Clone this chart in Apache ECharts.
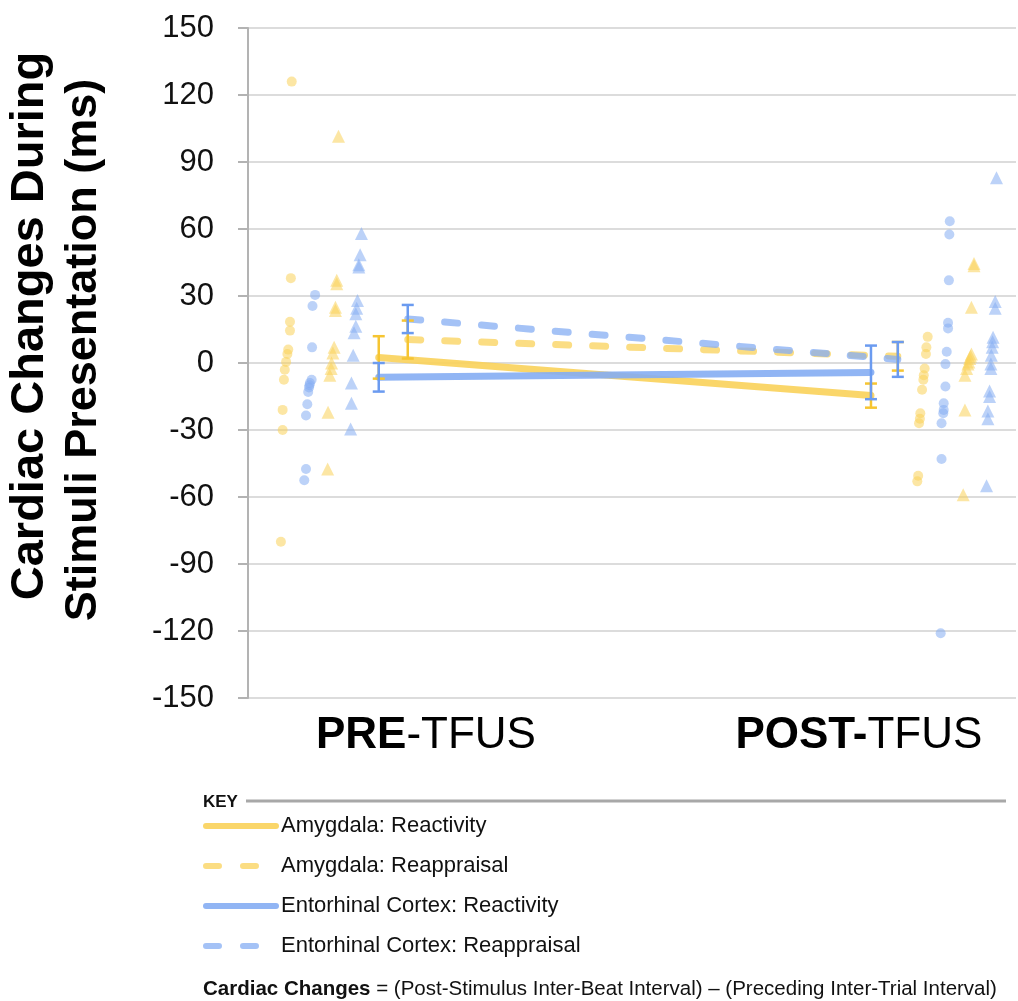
<!DOCTYPE html>
<html>
<head>
    <meta charset="UTF-8">
    <title>Cardiac changes PRE / POST TFUS</title>
    <script src="https://cdn.jsdelivr.net/npm/echarts@6/dist/echarts.min.js"></script>
    <style>
        html, body { margin: 0; padding: 0; background: #fff; }
    </style>
</head>
<body>

<div id="main" style="width: 1018px;height:1001px"></div>

<script type="text/javascript">
    // x: 1 = PRE-TFUS, 2 = POST-TFUS (points are jittered left / right of the label)
    var seriesNames = ['Amygdala: Reactivity', 'Amygdala: Reappraisal', 'Entorhinal Cortex: Reactivity', 'Entorhinal Cortex: Reappraisal'];
    var tickLabels = ['PRE-TFUS', 'POST-TFUS'];

    // group means with error bars (pre, post)
    var meanX = { reactivity: [0.891, 2.028], reappraisal: [0.958, 2.090] };
    var amyReactMean = [2.5, -14.6];
    var amyReactErr = [9.5, 5.4];
    var amyReappMean = [10.5, 3.0];
    var amyReappErr = [8.5, 6.4];
    var ecReactMean = [-6.4, -4.2];
    var ecReactErr = [6.4, 12.0];
    var ecReappMean = [19.7, 1.6];
    var ecReappErr = [6.3, 7.8];

    // individual subjects [x, ms]
    var amyReactPts = [
        [0.690, 126], [0.688, 38], [0.686, 18.5], [0.686, 14.5], [0.682, 6], [0.680, 4],
        [0.677, 0.5], [0.674, -3], [0.672, -7.5], [0.669, -21], [0.669, -30], [0.665, -80],
        [2.159, 11.7], [2.156, 7], [2.155, 4], [2.152, -2.5], [2.150, -5.5], [2.149, -7.5],
        [2.146, -12], [2.142, -22.5], [2.141, -25], [2.139, -27], [2.137, -50.5], [2.135, -53]
    ];
    var ecReactPts = [
        [0.744, 30.5], [0.738, 25.5], [0.737, 7], [0.736, -7.5], [0.732, -9], [0.731, -10],
        [0.730, -11], [0.728, -13], [0.726, -18.5], [0.723, -23.5], [0.723, -47.5], [0.719, -52.5],
        [2.210, 63.5], [2.209, 57.5], [2.208, 37], [2.206, 18], [2.206, 15.5], [2.203, 5],
        [2.200, -0.5], [2.200, -10.5], [2.196, -18], [2.196, -21], [2.195, -22.5], [2.191, -27],
        [2.191, -43], [2.189, -121]
    ];
    var amyReappPts = [
        [0.798, 101.5], [0.794, 37], [0.794, 35.5], [0.791, 25], [0.791, 23.5], [0.788, 7],
        [0.785, 4.5], [0.782, 0], [0.781, -2.5], [0.778, -5.5], [0.774, -22], [0.773, -47.5],
        [2.266, 44.5], [2.266, 43.5], [2.260, 25], [2.260, 4], [2.258, 3], [2.256, 2],
        [2.254, 0.5], [2.252, -0.5], [2.249, -2.5], [2.245, -5.5], [2.245, -21], [2.241, -59]
    ];
    var ecReappPts = [
        [0.851, 58], [0.848, 48.5], [0.845, 44], [0.845, 43], [0.842, 28], [0.840, 24.5],
        [0.838, 22], [0.838, 16.5], [0.834, 13.5], [0.832, 3.5], [0.828, -9], [0.828, -18],
        [0.826, -29.5],
        [2.318, 83], [2.315, 27.5], [2.315, 24.5], [2.310, 11.5], [2.309, 9.5], [2.308, 7],
        [2.306, 3.5], [2.305, -0.5], [2.305, -2.5], [2.302, -12.5], [2.302, -15], [2.298, -21.5],
        [2.298, -25], [2.295, -55]
    ];

    var YELLOW = '#f9d25a', BLUE = '#85adf3';
    var FONT = '"Liberation Sans", Arial, Helvetica, sans-serif';

    function linePts(xs, ys) {
        return [[xs[0], ys[0]], [xs[1], ys[1]]];
    }
    function errPts(xs, ys, es) {
        return [[xs[0], ys[0] - es[0], ys[0] + es[0]], [xs[1], ys[1] - es[1], ys[1] + es[1]]];
    }

    function errorBars(data, color) {
        return {
            type: 'custom',
            data: data,
            z: 4,
            silent: true,
            renderItem: function (params, api) {
                var x = api.value(0);
                var lo = api.coord([x, api.value(1)]);
                var hi = api.coord([x, api.value(2)]);
                var w = 6;
                var st = { stroke: color, lineWidth: 2.5 };
                return {
                    type: 'group',
                    children: [
                        { type: 'line', shape: { x1: lo[0], y1: lo[1], x2: hi[0], y2: hi[1] }, style: st },
                        { type: 'line', shape: { x1: hi[0] - w, y1: hi[1], x2: hi[0] + w, y2: hi[1] }, style: st },
                        { type: 'line', shape: { x1: lo[0] - w, y1: lo[1], x2: lo[0] + w, y2: lo[1] }, style: st }
                    ]
                };
            }
        };
    }

    function dots(name, data, symbol, color, size) {
        return {
            name: name,
            type: 'scatter',
            data: data,
            symbol: symbol,
            symbolSize: size,
            itemStyle: { color: color, opacity: 0.55 },
            z: 2,
            silent: true
        };
    }

    function meanLine(name, data, color, dashed, z) {
        return {
            name: name,
            type: 'line',
            data: data,
            symbol: 'none',
            z: z,
            silent: true,
            itemStyle: { color: color },
            lineStyle: {
                color: color,
                width: 7,
                opacity: dashed ? 0.75 : 0.9,
                type: dashed ? [13, 24] : 'solid',
                cap: 'round'
            }
        };
    }

    var myChart = echarts.init(document.getElementById('main'));
    var option = {
        animation: false,
        textStyle: { fontFamily: FONT },
        grid: { left: 248, top: 28, width: 768, height: 670, containLabel: false },
        xAxis: {
            type: 'value',
            min: 0.589,
            max: 2.363,
            axisLine: { show: false },
            axisTick: { show: false },
            splitLine: { show: false },
            axisLabel: {
                customValues: [1, 2],
                margin: 16,
                formatter: function (v) {
                    return v < 1.5 ? '{b|PRE}{n|-TFUS}' : '{b|POST-}{n|TFUS}';
                },
                rich: {
                    b: { fontSize: 44, fontWeight: 'bold', color: '#000', fontFamily: FONT },
                    n: { fontSize: 44, color: '#000', fontFamily: FONT }
                }
            }
        },
        yAxis: {
            type: 'value',
            min: -150,
            max: 150,
            interval: 30,
            axisLine: { show: true, lineStyle: { color: '#b3b3b3', width: 2 } },
            axisTick: { show: true, length: 10, lineStyle: { color: '#b3b3b3', width: 2 } },
            splitLine: { lineStyle: { color: '#dcdcdc', width: 2 } },
            axisLabel: { fontSize: 31, color: '#111', margin: 34, fontFamily: FONT }
        },
        legend: {
            data: seriesNames,
            orient: 'vertical',
            left: 203,
            top: 815,
            padding: 0,
            itemWidth: 70,
            itemHeight: 14,
            itemGap: 18,
            selectedMode: false,
            textStyle: { fontSize: 22, color: '#111', fontFamily: FONT },
            itemStyle: { opacity: 0 },
            lineStyle: { width: 6, cap: 'round' }
        },
        graphic: [
            {
                type: 'text', x: 30, y: 326, rotation: Math.PI / 2,
                style: {
                    text: 'Cardiac Changes During',
                    font: 'bold 47px ' + FONT,
                    fill: '#000', align: 'center', verticalAlign: 'middle'
                }
            },
            {
                type: 'text', x: 84, y: 350, rotation: Math.PI / 2,
                style: {
                    text: 'Stimuli Presentation (ms)',
                    font: 'bold 45px ' + FONT,
                    fill: '#000', align: 'center', verticalAlign: 'middle'
                }
            },
            {
                type: 'text', left: 203, top: 794,
                style: { text: 'KEY', font: 'bold 17px ' + FONT, fill: '#111' }
            },
            {
                type: 'line', shape: { x1: 246, y1: 801, x2: 1006, y2: 801 },
                style: { stroke: '#a8a8a8', lineWidth: 3 }
            },
            {
                type: 'text', left: 203, top: 979,
                style: {
                    text: '{b|Cardiac Changes} = (Post-Stimulus Inter-Beat Interval) \u2013 (Preceding Inter-Trial Interval)',
                    font: '20.5px ' + FONT, fill: '#111',
                    rich: { b: { font: 'bold 20.5px ' + FONT, fill: '#111' } }
                }
            }
        ],
        series: [
            dots('amy react pts', amyReactPts, 'circle', YELLOW, 10),
            dots('ec react pts', ecReactPts, 'circle', BLUE, 10),
            dots('amy reapp pts', amyReappPts, 'triangle', YELLOW, 13),
            dots('ec reapp pts', ecReappPts, 'triangle', BLUE, 13),
            meanLine(seriesNames[1], linePts(meanX.reappraisal, amyReappMean), YELLOW, true, 3),
            meanLine(seriesNames[3], linePts(meanX.reappraisal, ecReappMean), BLUE, true, 3),
            meanLine(seriesNames[0], linePts(meanX.reactivity, amyReactMean), YELLOW, false, 3),
            meanLine(seriesNames[2], linePts(meanX.reactivity, ecReactMean), BLUE, false, 3),
            errorBars(errPts(meanX.reactivity, amyReactMean, amyReactErr), '#f6c532'),
            errorBars(errPts(meanX.reappraisal, amyReappMean, amyReappErr), '#f6c532'),
            errorBars(errPts(meanX.reactivity, ecReactMean, ecReactErr), '#6b9bf0'),
            errorBars(errPts(meanX.reappraisal, ecReappMean, ecReappErr), '#6b9bf0')
        ]
    };
    myChart.setOption(option);
</script>
</body>
</html>
